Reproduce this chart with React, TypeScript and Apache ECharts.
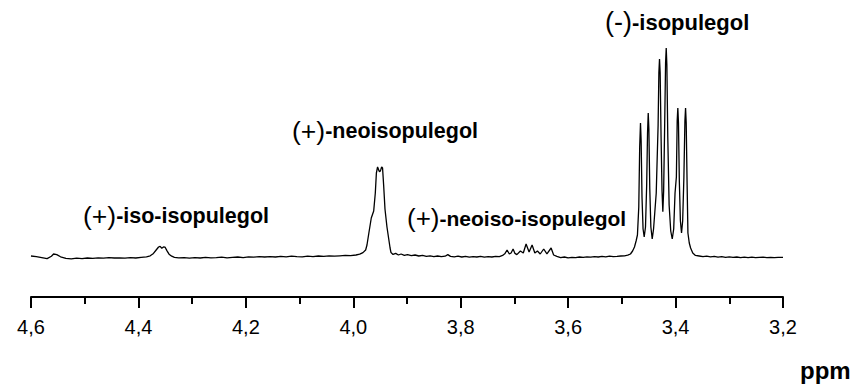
import React, { useEffect, useRef } from "react";
import * as echarts from "echarts";

// chemical shift (ppm) and intensity (arbitrary units, baseline = 0)
const ppm: number[] = [
  4.6, 4.59, 4.58, 4.57, 4.562, 4.558, 4.552, 4.545, 4.535, 4.525, 4.515, 4.505, 4.495, 4.485, 4.475,
  4.465, 4.455, 4.445, 4.435, 4.425, 4.415, 4.405, 4.395, 4.385, 4.378, 4.372, 4.367, 4.3625, 4.3596,
  4.3565, 4.3535, 4.3503, 4.347, 4.343, 4.338, 4.333, 4.325, 4.315, 4.305, 4.295, 4.285, 4.275, 4.265,
  4.255, 4.245, 4.235, 4.225, 4.215, 4.205, 4.195, 4.185, 4.175, 4.165, 4.155, 4.145, 4.135, 4.125,
  4.115, 4.105, 4.095, 4.085, 4.075, 4.065, 4.055, 4.045, 4.035, 4.025, 4.015, 4.005, 3.995, 3.988,
  3.982, 3.977, 3.9745, 3.971, 3.9665, 3.962, 3.959, 3.957, 3.9548, 3.9533, 3.952, 3.9505, 3.949,
  3.9472, 3.9455, 3.9435, 3.941, 3.9373, 3.934, 3.9315, 3.9298, 3.926, 3.921, 3.916, 3.911, 3.905,
  3.899, 3.892, 3.885, 3.878, 3.871, 3.864, 3.857, 3.85, 3.843, 3.836, 3.829, 3.824, 3.819, 3.812,
  3.805, 3.798, 3.791, 3.784, 3.777, 3.77, 3.763, 3.756, 3.749, 3.742, 3.735, 3.728, 3.722, 3.718,
  3.7137, 3.7095, 3.7062, 3.7025, 3.699, 3.6955, 3.6889, 3.6835, 3.6783, 3.6727, 3.6671, 3.662,
  3.6572, 3.652, 3.6455, 3.6395, 3.6317, 3.627, 3.621, 3.614, 3.607, 3.6, 3.593, 3.586, 3.579,
  3.572, 3.565, 3.558, 3.551, 3.544, 3.537, 3.53, 3.523, 3.516, 3.509, 3.502, 3.495, 3.489, 3.484,
  3.48, 3.4765, 3.4735, 3.471, 3.4685, 3.4668, 3.4653, 3.4641, 3.4625, 3.4605, 3.4584, 3.456,
  3.4538, 3.4522, 3.4509, 3.4497, 3.448, 3.446, 3.4435, 3.441, 3.436, 3.4325, 3.4311, 3.4299,
  3.4287, 3.427, 3.4252, 3.4237, 3.4222, 3.4203, 3.4186, 3.4174, 3.4162, 3.4145, 3.412, 3.409,
  3.4062, 3.4035, 3.401, 3.3985, 3.397, 3.3958, 3.3946, 3.393, 3.391, 3.3889, 3.3868, 3.3845,
  3.3826, 3.3814, 3.3802, 3.3785, 3.377, 3.3745, 3.372, 3.368, 3.363, 3.356, 3.349, 3.342, 3.335,
  3.328, 3.321, 3.314, 3.307, 3.3, 3.293, 3.286, 3.279, 3.272, 3.265, 3.258, 3.251, 3.244, 3.237,
  3.23, 3.223, 3.216, 3.209, 3.2,
];

const intensity: number[] = [
  0.5, 0.2, -0.3, -0.8, 0.4, 1.5, 1.2, 0.1, -0.7, -0.9, -0.6, -0.8, -0.5, -0.7, -0.4,
  -0.6, -0.3, -0.5, -0.4, -0.6, -0.3, -0.5, -0.2, 0.1, 0.6, 1.8, 3.5, 5.0, 5.3,
  4.4, 5.0, 4.9, 3.2, 1.4, 0.4, -0.2, -0.4, -0.3, -0.6, -0.3, -0.5, -0.2, -0.4,
  -0.3, -0.1, -0.4, -0.2, 0.0, -0.3, 0.1, -0.1, 0.2, 0.0, 0.2, 0.0, 0.3, 0.1,
  0.4, 0.2, 0.1, 0.4, 0.2, 0.5, 0.3, 0.6, 0.4, 0.6, 0.8, 0.7, 1.0, 1.4,
  2.2, 3.5, 6, 12, 19.5, 23, 32, 42, 45, 44, 43, 42.6, 43.5,
  45, 44.5, 36, 24, 15, 9, 4.5, 2.2, 1.3, 1.8, 1.0, 1.5, 0.8,
  1.2, 0.7, 1.0, 0.5, 0.8, 0.3, 0.6, 0.2, 0.5, 0.2, 0.4, 1.2, 0.3, 0.1,
  0.4, 0.0, 0.3, -0.1, 0.2, 0.0, 0.3, -0.1, 0.2, 0.0, 0.3, 0.2, 0.8, 1.6,
  3.5, 1.5, 2.0, 4.0, 1.8, 1.2, 3.0, 2.0, 6.5, 2.5, 6.0, 2.0,
  3.0, 1.5, 4.0, 1.6, 4.5, 1.0, 0.3, -0.3, 0.0, -0.4, -0.2, -0.3, 0.0,
  -0.2, 0.1, -0.1, 0.2, 0.0, 0.3, 0.1, 0.4, 0.2, 0.3, 0.5, 0.6, 0.9, 1.5,
  3, 5, 8, 11, 25, 55, 67, 58, 30, 14, 10, 15,
  36, 62, 72, 64, 34, 15, 9, 14, 32, 66, 92, 99,
  92, 60, 33, 22.6, 33, 66, 97, 104.5, 96, 60, 26, 13,
  9, 14, 32, 40, 68, 74.5, 67, 38, 18, 12, 18, 40,
  68, 74.5, 67, 36, 12, 7, 4.5, 2, 0.8, 0.5, 0.2, 0.4, 0.1,
  0.3, -0.1, 0.2, -0.2, 0.1, -0.2, 0.0, -0.3, -0.1, -0.3, -0.1, -0.3, -0.2, -0.1,
  -0.3, -0.2, -0.3, -0.2, -0.2,
];

const tickValues: number[] = [4.6, 4.4, 4.2, 4.0, 3.8, 3.6, 3.4, 3.2];

const peakLabels: { sign: string; name: string }[] = [
  { sign: "(+)", name: "-iso-isopulegol" },
  { sign: "(+)", name: "-neoisopulegol" },
  { sign: "(+)", name: "-neoiso-isopulegol" },
  { sign: "(-)", name: "-isopulegol" },
];

const FONT = "'Liberation Sans', Arial, Helvetica, sans-serif";

export default function App() {
  const ref = useRef<HTMLDivElement>(null);
  useEffect(() => {
    if (!ref.current) return;
    const chart = echarts.init(ref.current, null, { renderer: "svg" });
    const data = ppm.map((p, i) => [p, intensity[i]]);
    const labelPos = [
      { x: 83, y: 216, s: 21.5 },
      { x: 292, y: 131, s: 21.5 },
      { x: 407, y: 218, s: 21 },
      { x: 605, y: 22, s: 22 },
    ];
    const makeRich = (s: number) => ({
      a: { fontFamily: FONT, fontSize: s + 5, fontWeight: "normal", fill: "#000", color: "#000" },
      b: { fontFamily: FONT, fontSize: s, fontWeight: "bold", fill: "#000", color: "#000" },
    });
    chart.setOption({
      animation: false,
      backgroundColor: "#fff",
      grid: { left: 31, right: 75, top: 37, bottom: 89 },
      xAxis: {
        type: "value",
        inverse: true,
        min: 3.2,
        max: 4.6,
        interval: 0.2,
        axisLine: { show: true, onZero: false, lineStyle: { color: "#000", width: 2 } },
        axisTick: { show: true, inside: false, length: 11, lineStyle: { color: "#000", width: 2 } },
        minorTick: { show: true, splitNumber: 2, length: 7, lineStyle: { color: "#000", width: 2 } },
        splitLine: { show: false },
        axisLabel: {
          margin: 20,
          fontFamily: FONT,
          fontSize: 20,
          color: "#000",
          formatter: (v: number) => {
            const t = tickValues.find((tv) => Math.abs(tv - v) < 1e-6);
            return t === undefined ? "" : t.toFixed(1).replace(".", ",");
          },
        },
      },
      yAxis: { type: "value", show: false, min: -20, max: 110 },
      series: [
        {
          type: "line",
          data,
          showSymbol: false,
          symbol: "none",
          clip: false,
          lineStyle: { color: "#000", width: 1.3 },
        },
      ],
      graphic: [
        ...peakLabels.map((l, i) => ({
          type: "text",
          x: labelPos[i].x,
          y: labelPos[i].y,
          style: {
            text: `{a|${l.sign}}{b|${l.name}}`,
            rich: makeRich(labelPos[i].s),
            verticalAlign: "middle",
            align: "left",
          },
        })),
        {
          type: "text",
          x: 800,
          y: 370,
          style: {
            text: "ppm",
            fontFamily: FONT,
            fontSize: 24,
            fontWeight: "bold",
            fill: "#000",
            verticalAlign: "middle",
            align: "left",
          },
        },
      ],
    });
    return () => chart.dispose();
  }, []);
  return (
    <div
      ref={ref}
      style={{ position: "fixed", left: 0, top: 0, width: 858, height: 386, background: "#fff" }}
    />
  );
}
